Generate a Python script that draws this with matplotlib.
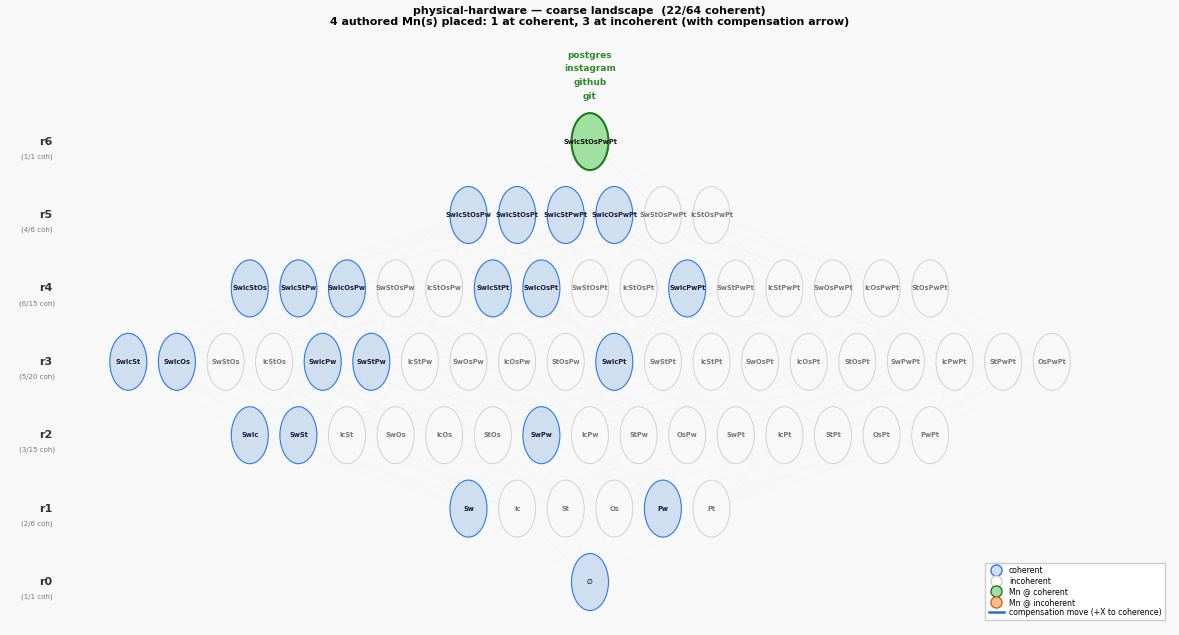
import itertools

import matplotlib.pyplot as plt
from matplotlib.lines import Line2D
from matplotlib.patches import Ellipse

# ---- data ----
atoms = ["Sw", "Ic", "St", "Os", "Pw", "Pt"]
coherent = {
    "", "Sw", "Pw",
    "SwIc", "SwSt", "SwPw",
    "SwIcSt", "SwIcOs", "SwIcPw", "SwStPw", "SwIcPt",
    "SwIcStOs", "SwIcStPw", "SwIcOsPw", "SwIcStPt", "SwIcOsPt", "SwIcPwPt",
    "SwIcStOsPw", "SwIcStOsPt", "SwIcStPwPt", "SwIcOsPwPt",
    "SwIcStOsPwPt",
}
mn_node = "SwIcStOsPwPt"
mn_names = ["postgres", "instagram", "github", "git"]
title = ("physical-hardware — coarse landscape  (22/64 coherent)\n"
         "4 authored Mn(s) placed: 1 at coherent, 3 at incoherent (with compensation arrow)")

BG = "#f8f8f8"
fig = plt.figure(figsize=(11.79, 6.35), dpi=100, facecolor=BG)
ax = fig.add_axes([0, 0, 1, 1])
ax.set_facecolor(BG)
ax.set_xlim(0, 1179)
ax.set_ylim(635, 0)
ax.axis("off")

cx, dx = 590, 48.6
row_y = {r: 582 - 73.4 * r for r in range(7)}

pos = {}
rows = {}
for r in range(7):
    combos = sorted(itertools.combinations(range(6), r), key=lambda c: c[::-1])
    names = ["".join(atoms[i] for i in c) for c in combos]
    rows[r] = (combos, names)
    n = len(names)
    for k, c in enumerate(combos):
        pos[frozenset(c)] = (cx + (k - (n - 1) / 2) * dx, row_y[r])

# nearly invisible cover edges
for s, (x0, y0) in pos.items():
    for i in range(6):
        if i not in s:
            x1, y1 = pos[s | {i}]
            ax.plot([x0, x1], [y0, y1], color="#f3f3f3", lw=0.3, zorder=1)

for r in range(7):
    combos, names = rows[r]
    ncoh = sum(nm in coherent for nm in names)
    ax.text(46, row_y[r], f"r{r}", ha="center", va="center", fontsize=8,
            fontweight="bold", color="#333333")
    ax.text(37, row_y[r] + 15, f"({ncoh}/{len(names)} coh)", ha="center",
            va="center", fontsize=5, color="#777777")
    for c, nm in zip(combos, names):
        x, y = pos[frozenset(c)]
        if nm == mn_node:
            fc, ec, lw, tc = "#a0e0a0", "#1e7a1e", 1.5, "#111111"
        elif nm in coherent:
            fc, ec, lw, tc = "#cfdff0", "#2a7ae2", 0.8, "#1a1a3a"
        else:
            fc, ec, lw, tc = BG, "#cccccc", 0.6, "#777777"
        ax.add_patch(Ellipse((x, y), 37, 57, facecolor=fc, edgecolor=ec,
                             lw=lw, zorder=2))
        ax.text(x, y, nm if nm else "∅", ha="center", va="center",
                fontsize=4.8, fontweight="bold", color=tc, zorder=3)

for k, nm in enumerate(mn_names):
    ax.text(cx, 55 + 13.7 * k, nm, ha="center", va="center", fontsize=6.5,
            fontweight="bold", color="#2e8b2e")

fig.text(0.5, 0.99, title, ha="center", va="top", fontsize=7.9,
         fontweight="bold", linespacing=1.1)

handles = [
    Line2D([], [], marker="o", ls="", ms=8, mfc="#cfdff0", mec="#2a7ae2", label="coherent"),
    Line2D([], [], marker="o", ls="", ms=8, mfc="white", mec="#cccccc", label="incoherent"),
    Line2D([], [], marker="o", ls="", ms=8, mfc="#a0e0a0", mec="#1e7a1e", label="Mn @ coherent"),
    Line2D([], [], marker="o", ls="", ms=8, mfc="#ffc08a", mec="#d06020", label="Mn @ incoherent"),
    Line2D([], [], color="#2a6fd0", lw=1.8, label="compensation move (+X to coherence)"),
]
ax.legend(handles=handles, loc="lower right", bbox_to_anchor=(0.991, 0.017),
          fontsize=5.6, frameon=True, framealpha=1, edgecolor="#cccccc",
          handletextpad=0.6, labelspacing=0.2, borderpad=0.4)

fig.savefig("out.png", dpi=100, facecolor=BG)
